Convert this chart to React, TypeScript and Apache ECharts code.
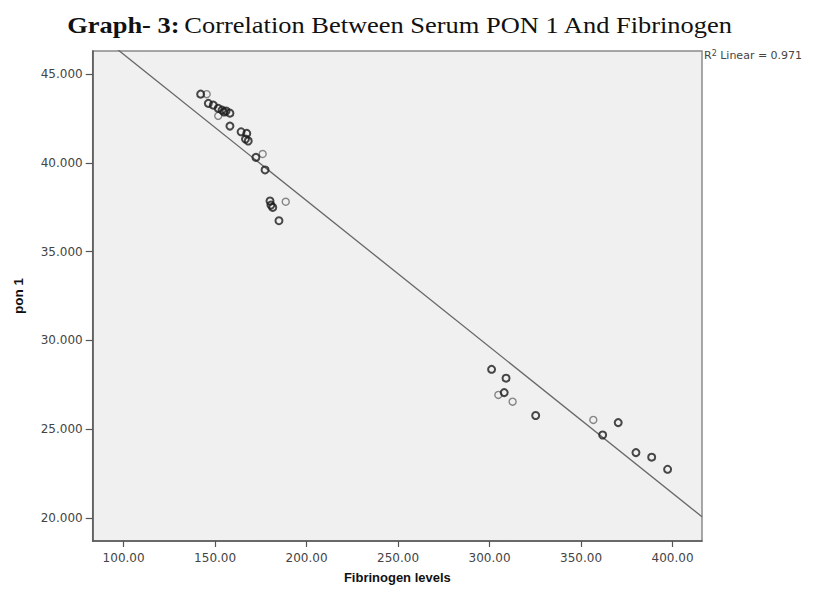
import React, { useEffect, useRef } from "react";
import * as echarts from "echarts";

// Dark (bold) circles
const darkFibrinogen = [142.1, 146.3, 149.0, 151.7, 153.8, 156.0, 158.1, 154.9, 158.1, 164.2, 167.3, 168.1, 166.6, 172.3, 177.3, 180.0, 180.5, 181.5, 184.9, 301.1, 309.0, 308.0, 325.2, 370.3, 361.8, 380.0, 388.6, 397.3];
const darkPon1 = [43.87, 43.35, 43.25, 43.07, 42.97, 42.92, 42.8, 42.86, 42.07, 41.75, 41.66, 41.23, 41.34, 40.31, 39.6, 37.85, 37.62, 37.49, 36.74, 28.37, 27.87, 27.06, 25.77, 25.37, 24.67, 23.68, 23.42, 22.74];
// Light circles
const lightFibrinogen = [145.4, 151.7, 176.0, 188.6, 304.8, 312.6, 356.7];
const lightPon1 = [43.87, 42.65, 40.5, 37.81, 26.93, 26.55, 25.52];

const xTicks = [100, 150, 200, 250, 300, 350, 400];
const yTicks = [20, 25, 30, 35, 40, 45];
const xRange = [83.1, 416.1];
const yRange = [18.7, 46.3];

const fitIntercept = 54.35;
const fitSlope = -0.0824;
const rSquared = "0.971";

export default function App() {
  const ref = useRef<HTMLDivElement>(null);
  useEffect(() => {
    if (!ref.current) return;
    const chart = echarts.init(ref.current, null, { renderer: "svg" });
    const fitLine = xRange.map((x) => [x, fitIntercept + fitSlope * x]);
    chart.setOption({
      animation: false,
      backgroundColor: "#ffffff",
      graphic: [
        {
          type: "text",
          x: 400,
          y: 25,
          scaleX: 1.15,
          style: {
            text: "{b|Graph- 3:} {n|Correlation Between Serum PON 1 And Fibrinogen}",
            align: "center",
            verticalAlign: "middle",
            rich: {
              b: { fontFamily: "Liberation Serif", fontWeight: "bold", fontSize: 23, fill: "#111" },
              n: { fontFamily: "Liberation Serif", fontWeight: "normal", fontSize: 23, fill: "#111" },
            },
          },
        },
        {
          type: "text",
          left: 704,
          top: 49,
          style: {
            text: "R{s|2} Linear = " + rSquared,
            fontFamily: "DejaVu Sans",
            fontSize: 11,
            fill: "#444",
            rich: { s: { fontFamily: "DejaVu Sans", fontSize: 8, verticalAlign: "top", padding: [0, 0, 5, 0], fill: "#444" } },
          },
        },
      ],
      grid: {
        left: 92.7,
        top: 51,
        right: 111,
        bottom: 50,
        show: true,
        backgroundColor: "#f0f0f0",
        borderColor: "#8a8a8a",
        borderWidth: 1.5,
      },
      xAxis: {
        type: "value",
        min: xRange[0],
        max: xRange[1],
        name: "Fibrinogen levels",
        nameLocation: "middle",
        nameGap: 30,
        nameTextStyle: { fontFamily: "Liberation Sans", fontWeight: "bold", fontSize: 13, color: "#111" },
        axisLine: { show: true, lineStyle: { color: "#555", width: 1.5 } },
        axisTick: { show: true, length: 6, customValues: xTicks, lineStyle: { color: "#555", width: 1.2 } },
        axisLabel: {
          customValues: xTicks,
          margin: 11,
          fontFamily: "DejaVu Sans",
          fontSize: 12,
          color: "#444",
          formatter: (v: number) => v.toFixed(2),
        },
        splitLine: { show: false },
      },
      yAxis: {
        type: "value",
        min: yRange[0],
        max: yRange[1],
        name: "pon 1",
        nameLocation: "middle",
        nameGap: 67,
        nameRotate: 90,
        nameTextStyle: { fontFamily: "Liberation Sans", fontWeight: "bold", fontSize: 13.5, color: "#111" },
        axisLine: { show: true, lineStyle: { color: "#555", width: 1.5 } },
        axisTick: { show: true, length: 7, customValues: yTicks, lineStyle: { color: "#555", width: 1.2 } },
        axisLabel: {
          customValues: yTicks,
          margin: 10,
          fontFamily: "DejaVu Sans",
          fontSize: 12,
          color: "#444",
          formatter: (v: number) => v.toFixed(3),
        },
        splitLine: { show: false },
      },
      series: [
        {
          type: "line",
          data: fitLine,
          clip: true,
          symbol: "none",
          lineStyle: { color: "#666", width: 1.3 },
          z: 1,
        },
        {
          type: "scatter",
          data: lightFibrinogen.map((x, i) => [x, lightPon1[i]]),
          symbol: "circle",
          symbolSize: 7,
          itemStyle: { color: "rgba(0,0,0,0)", borderColor: "#6a6a6a", borderWidth: 1.4 },
          z: 2,
        },
        {
          type: "scatter",
          data: darkFibrinogen.map((x, i) => [x, darkPon1[i]]),
          symbol: "circle",
          symbolSize: 7,
          itemStyle: { color: "rgba(0,0,0,0)", borderColor: "#1c1c1c", borderWidth: 2 },
          z: 3,
        },
      ],
    });
    return () => chart.dispose();
  }, []);
  return <div ref={ref} style={{ position: "fixed", left: 0, top: 0, width: 813, height: 591 }} />;
}
